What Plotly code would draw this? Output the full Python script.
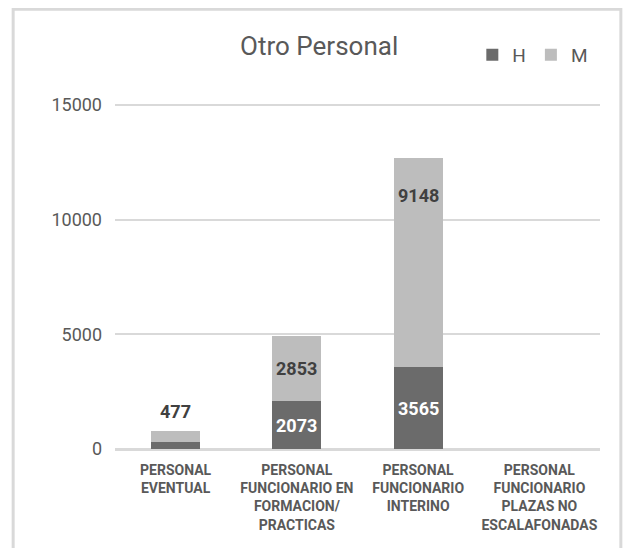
import plotly.graph_objects as go

# categories and values
categories = [
    '<b>PERSONAL<br>EVENTUAL</b>',
    '<b>PERSONAL<br>FUNCIONARIO EN<br>FORMACION/<br>PRACTICAS</b>',
    '<b>PERSONAL<br>FUNCIONARIO<br>INTERINO</b>',
    '<b>PERSONAL<br>FUNCIONARIO<br>PLAZAS NO<br>ESCALAFONADAS</b>',
]
hombres = [306, 2073, 3565, 0]
mujeres = [477, 2853, 9148, 0]
y_ticks = [0, 5000, 10000, 15000]
y_tick_labels = ['0', '5000', '10000', '15000']

DARK = '#6b6b6b'
LIGHT = '#bdbdbd'
TEXT = '#595959'
GRID = '#d9d9d9'
FONT = 'Roboto, sans-serif'

fig = go.Figure()
fig.add_bar(x=categories, y=hombres, name='H', marker={'color': DARK, 'line': {'width': 0}})
fig.add_bar(x=categories, y=mujeres, name='M', marker={'color': LIGHT, 'line': {'width': 0}})

# data labels (the small H of the first bar and the empty last bar are not labelled)
for cat, h, m in zip(categories, hombres, mujeres):
    if h > 1000:
        fig.add_annotation(x=cat, y=h / 2, text=f'<b>{h}</b>', showarrow=False,
                           font={'color': 'white', 'size': 18, 'family': FONT})
    if m == 0:
        continue
    if m < 1000:
        fig.add_annotation(x=cat, y=h + m, yshift=20, text=f'<b>{m}</b>', showarrow=False,
                           font={'color': '#404040', 'size': 18, 'family': FONT})
    elif m > 5000:
        fig.add_annotation(x=cat, y=h + m * 0.82, text=f'<b>{m}</b>', showarrow=False,
                           font={'color': '#404040', 'size': 18, 'family': FONT})
    else:
        fig.add_annotation(x=cat, y=h + m / 2, text=f'<b>{m}</b>', showarrow=False,
                           font={'color': '#404040', 'size': 18, 'family': FONT})

# outer chart border
fig.add_shape(type='rect', xref='paper', yref='paper', x0=-0.21, x1=1.043, y0=-0.35, y1=1.275,
              line={'color': GRID, 'width': 3}, fillcolor='rgba(0,0,0,0)', layer='below')

# the page body adds an 8px margin, so the figure is kept 16px smaller than the window
fig.update_layout(
    width=615,
    height=540,
    barmode='stack',
    bargap=0.595,
    plot_bgcolor='white',
    paper_bgcolor='white',
    margin={'l': 107, 'r': 23, 't': 96, 'b': 99},
    font={'family': FONT, 'color': TEXT},
    title={'text': 'Otro Personal', 'xref': 'container', 'x': 0.506, 'xanchor': 'center',
           'yref': 'container', 'y': 0.93, 'yanchor': 'middle',
           'font': {'size': 26, 'color': TEXT, 'family': FONT}},
    legend={'orientation': 'h', 'traceorder': 'normal', 'xref': 'container', 'yref': 'container',
            'x': 0.755, 'y': 0.913, 'xanchor': 'left', 'yanchor': 'middle',
            'font': {'size': 19, 'color': TEXT}, 'itemwidth': 30, 'bgcolor': 'rgba(0,0,0,0)'},
    showlegend=True,
)
fig.update_xaxes(showgrid=False, showline=False, ticks='', ticklabelstandoff=11,
                 tickfont={'size': 14, 'color': TEXT})
fig.update_yaxes(range=[0, 15050], tickvals=y_ticks, ticktext=y_tick_labels, showgrid=True,
                 gridcolor=GRID, gridwidth=2, zeroline=True, zerolinecolor=GRID, zerolinewidth=3,
                 showline=False, ticks='', ticklabelstandoff=12, tickfont={'size': 18, 'color': TEXT})

fig.write_html('out.html')
